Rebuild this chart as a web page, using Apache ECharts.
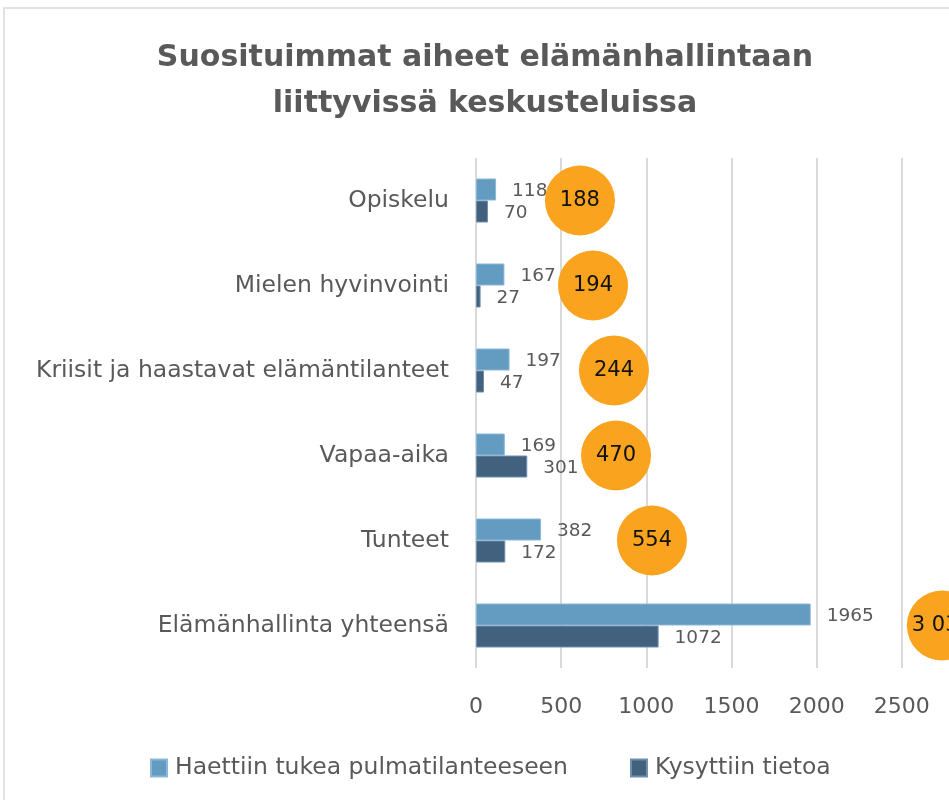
<!DOCTYPE html>
<html>
<head>
<meta charset="utf-8">
<script src="https://cdn.jsdelivr.net/npm/echarts@6/dist/echarts.min.js"></script>
<style>
  html, body { margin: 0; padding: 0; background: #fff; }
  #chart { width: 949px; height: 800px; }
</style>
</head>
<body>
<div id="chart"></div>
<script>
// aiheet ylhäältä alas
var categories = ['Opiskelu', 'Mielen hyvinvointi', 'Kriisit ja haastavat elämäntilanteet', 'Vapaa-aika', 'Tunteet', 'Elämänhallinta yhteensä'];
var tukea = [118, 167, 197, 169, 382, 1965];
var tietoa = [70, 27, 47, 301, 172, 1072];
// pallojen summat ja niiden paikka x-akselilla
var totals = [188, 194, 244, 470, 554, 3037];
var bubbleX = [610, 687, 810, 822, 1033, 2735];
var xTicks = [0, 500, 1000, 1500, 2000, 2500];

var font = 'DejaVu Sans';
var grey = '#595959';

function fmt(v) {
    var s = String(v);
    if (s.length > 3) s = s.slice(0, s.length - 3) + ' ' + s.slice(-3);
    return s;
}

var myChart = echarts.init(document.getElementById('chart'));
var option = {
    backgroundColor: '#fff',
    animation: false,
    textStyle: { fontFamily: font },
    title: {
        text: 'Suosituimmat aiheet elämänhallintaan\nliittyvissä keskusteluissa',
        left: 480,
        textAlign: 'center',
        top: 30,
        textStyle: { fontFamily: font, fontSize: 30, fontWeight: 'bold', color: grey, lineHeight: 46 }
    },
    graphic: [{
        type: 'rect',
        shape: { x: 4, y: 8, width: 1000, height: 1000 },
        style: { fill: 'none', stroke: '#d9d9d9', lineWidth: 1.5 },
        silent: true
    }],
    legend: {
        bottom: 15,
        left: 145,
        itemWidth: 16,
        itemHeight: 17,
        itemGap: 62,
        icon: 'rect',
        textStyle: { fontFamily: font, fontSize: 23.5, color: grey, padding: [0, 0, 0, 3] },
        data: ['Haettiin tukea pulmatilanteeseen', 'Kysyttiin tietoa']
    },
    grid: { left: 476, top: 158, width: 511, height: 510, outerBoundsMode: 'none' },
    xAxis: {
        type: 'value',
        min: 0,
        max: 3000,
        interval: 500,
        axisLine: { show: false },
        axisTick: { show: false },
        axisLabel: {
            fontFamily: font, fontSize: 22, color: grey, margin: 28,
            formatter: function (v) { return xTicks.indexOf(v) >= 0 ? String(v) : ''; }
        },
        splitLine: { lineStyle: { color: '#d9d9d9', width: 2 } }
    },
    yAxis: {
        type: 'category',
        inverse: true,
        data: categories,
        axisLine: { show: false },
        axisTick: { show: false },
        axisLabel: { fontFamily: font, fontSize: 23.5, color: grey, margin: 27 }
    },
    series: [{
        name: 'Haettiin tukea pulmatilanteeseen',
        type: 'bar',
        data: tukea,
        barWidth: 22,
        barGap: '0%',
        itemStyle: { color: '#639bc1', borderColor: '#8bb8d8', borderWidth: 1 },
        label: { show: true, position: 'right', distance: 16, fontFamily: font, fontSize: 18.5, color: grey, offset: [0, 2] }
    }, {
        name: 'Kysyttiin tietoa',
        type: 'bar',
        data: tietoa,
        barWidth: 22,
        barGap: '0%',
        itemStyle: { color: '#41617f', borderColor: '#6f8fae', borderWidth: 1 },
        label: { show: true, position: 'right', distance: 16, fontFamily: font, fontSize: 18.5, color: grey, offset: [0, 2] }
    }, {
        name: 'summa',
        type: 'scatter',
        symbol: 'circle',
        symbolSize: 70,
        z: 5,
        data: bubbleX.map(function (x, i) { return [x, categories[i]]; }),
        itemStyle: { color: '#f9a31e', opacity: 1 },
        label: {
            show: true, position: 'inside', fontFamily: font, fontSize: 21, color: '#111',
            formatter: function (p) { return fmt(totals[p.dataIndex]); }
        }
    }]
};
myChart.setOption(option);
</script>
</body>
</html>
